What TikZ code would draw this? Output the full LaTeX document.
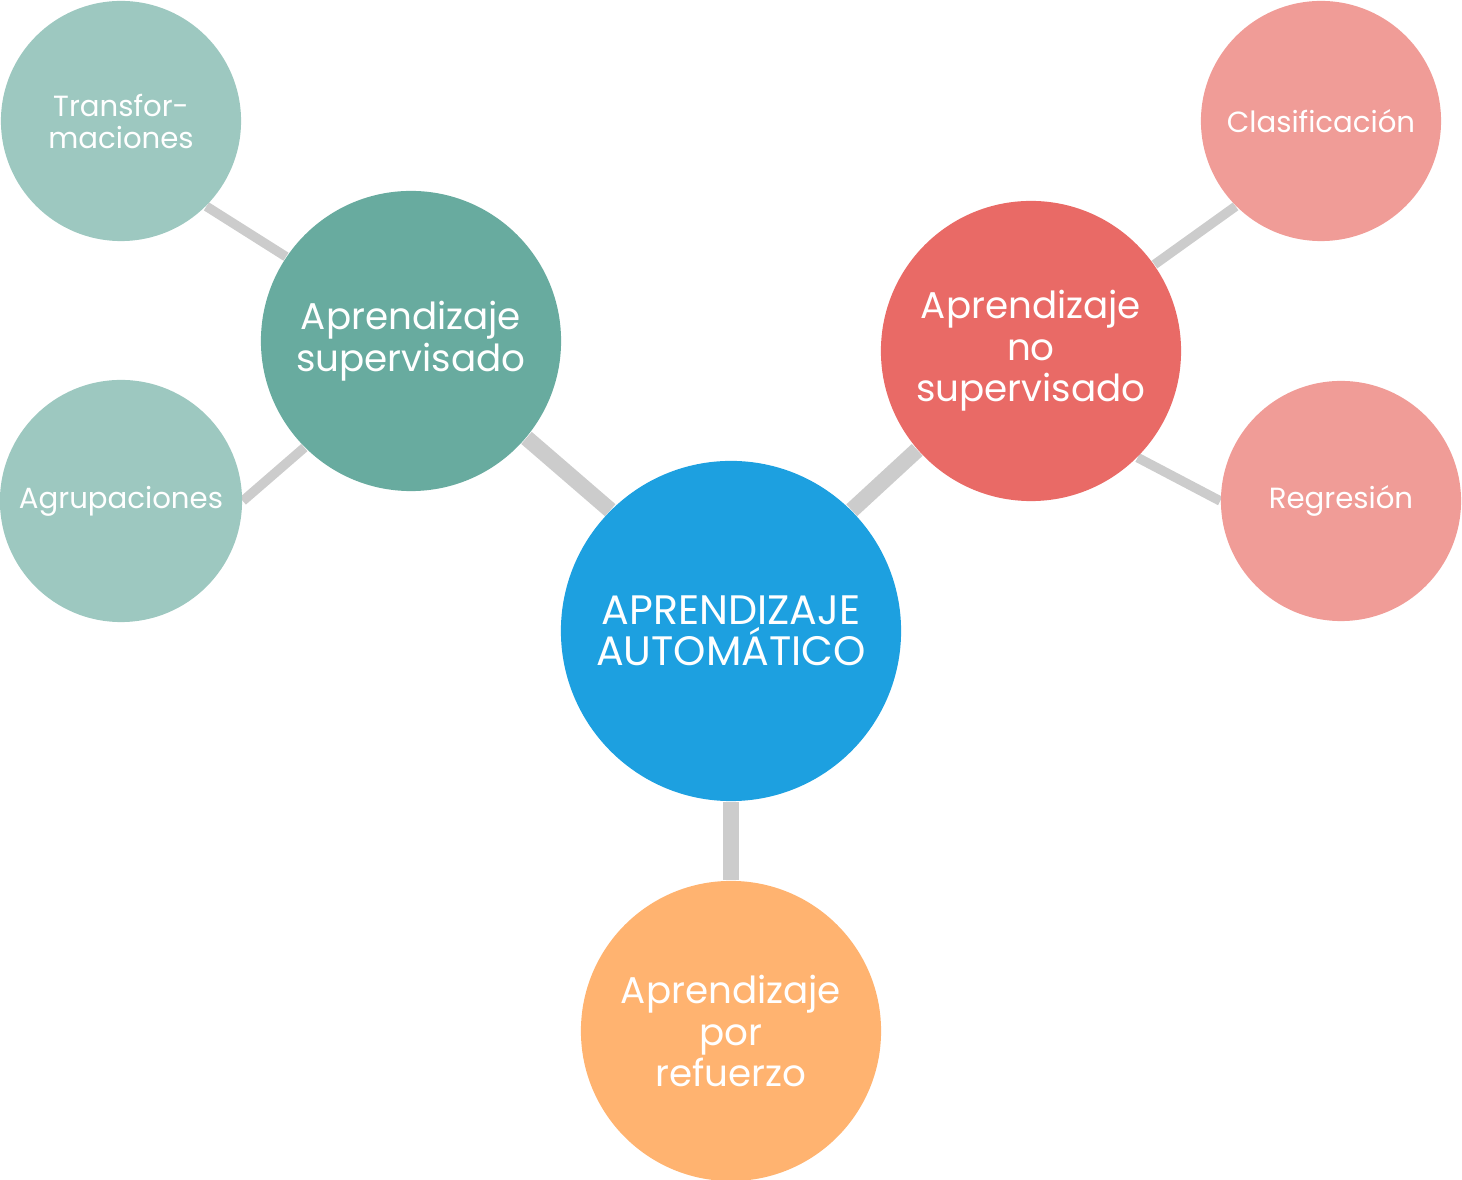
\documentclass[tikz,border=0pt]{standalone}
\usepackage{fontspec}
\setmainfont{Poppins}
\usetikzlibrary{backgrounds}
\definecolor{cmain}{HTML}{1DA0E0}
\definecolor{csup}{HTML}{68AB9F}
\definecolor{csupl}{HTML}{9DC8C0}
\definecolor{cnos}{HTML}{E96A66}
\definecolor{cnosl}{HTML}{F09C97}
\definecolor{cref}{HTML}{FFB370}
\definecolor{clink}{HTML}{CCCCCC}
\tikzset{
  bubble/.style={circle, inner sep=0pt, text=white, align=center, font=\fontsize{10.6}{11.8}\selectfont},
  bigtext/.style={font=\fontsize{11.7}{11.7}\selectfont},
  small/.style={bubble, font=\fontsize{8.3}{9.1}\selectfont},
  biglink/.style={draw=clink, line width=0.16cm},
  smalllink/.style={draw=clink, line width=0.095cm},
}
\begin{document}
\begin{tikzpicture}[x=0.01cm,y=-0.01cm]
\useasboundingbox (0,0) rectangle (1462,1180);
\node[bubble, bigtext, fill=cmain, minimum size=3.4cm] (main) at (731,631) {APRENDIZAJE\\AUTOMÁTICO};
\node[bubble, fill=csup, minimum size=3.0cm] (sup) at (411,341) {Aprendizaje\\supervisado};
\node[small, fill=csupl, minimum size=2.4cm] (tra) at (121,121) {Transfor-\\maciones};
\node[small, fill=csupl, minimum size=2.42cm] (agr) at (121,501) {Agrupaciones};
\node[bubble, fill=cnos, minimum size=3.0cm] (nos) at (1031,351) {Aprendizaje\\no\\supervisado};
\node[small, fill=cnosl, minimum size=2.4cm] (cla) at (1321,121) {Clasificación};
\node[small, fill=cnosl, minimum size=2.4cm] (reg) at (1341,501) {Regresión};
\node[bubble, fill=cref, minimum size=3.0cm] (ref) at (731,1031) {Aprendizaje\\por\\refuerzo};
\begin{scope}[on background layer]
\draw[biglink] (main.135.5) -- (sup.-40.8);
\draw[biglink] (main.45) -- (nos.221.7);
\draw[biglink] (main.270) -- (ref.90);
\draw[smalllink] (sup.146) -- (tra.-45.7);
\draw[smalllink] (sup.225) -- (agr.0);
\draw[smalllink] (nos.35) -- (cla.225.7);
\draw[smalllink] (nos.-45.5) -- (reg.180);
\end{scope}
\end{tikzpicture}
\end{document}
